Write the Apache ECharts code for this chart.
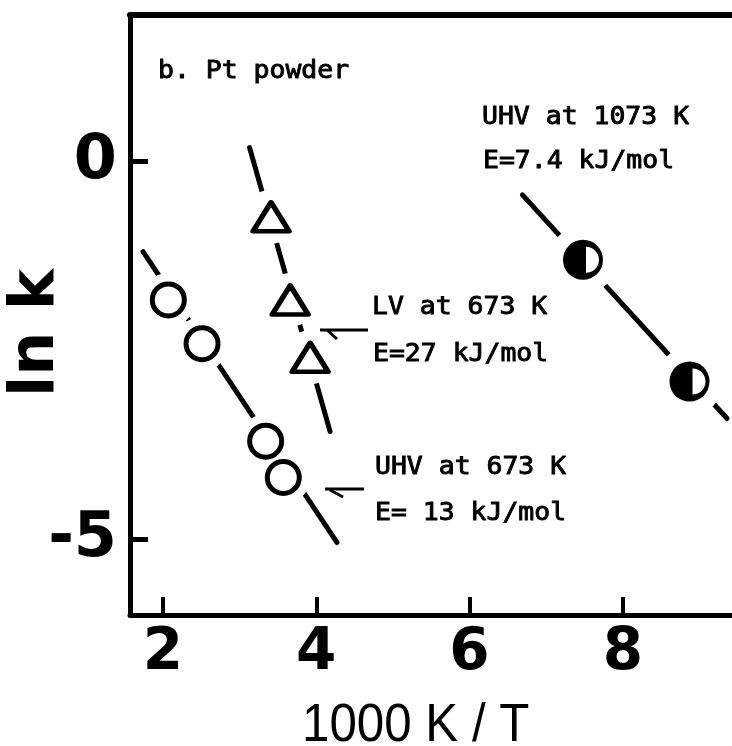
<!DOCTYPE html>
<html>
<head>
<meta charset="utf-8">
<script src="https://cdn.jsdelivr.net/npm/echarts@6/dist/echarts.min.js"></script>
<style>
  html, body { margin: 0; padding: 0; background: #fff; }
  #chart { width: 732px; height: 746px; }
</style>
</head>
<body>
<div id="chart"></div>
<script>
// Axis ticks and labels
const xTickValues = [2, 4, 6, 8];
const yTickValues = [0, -5];

// UHV at 673 K (open circles)
const uhv673X = [2.07, 2.51, 3.34, 3.57];
const uhv673Y = [-1.83, -2.41, -3.70, -4.18];
const uhv673FitX = [1.74, 4.27];
const uhv673FitY = [-1.19, -5.04];

// LV at 673 K (open triangles)
const lv673X = [3.41, 3.66, 3.92];
const lv673Y = [-0.73, -1.83, -2.59];
const lv673FitX = [3.13, 4.18];
const lv673FitY = [0.185, -3.57];

// UHV at 1073 K (half-filled circles)
const uhv1073X = [7.48, 8.87];
const uhv1073Y = [-1.30, -2.91];
const uhv1073FitX = [6.69, 9.36];
const uhv1073FitY = [-0.44, -3.40];

const zip = (xs, ys) => xs.map((x, i) => [x, ys[i]]);

// typewriter-style annotation text: regular mono with a light outline for a medium weight
function note(text, x, y) {
  return {
    type: 'text', x: x, y: y, scaleX: 1.08, z: 100,
    style: { text: text, fontFamily: 'DejaVu Sans Mono', fontSize: 24.5,
      fill: '#000', stroke: '#000', lineWidth: 0.9, align: 'left', verticalAlign: 'middle' }
  };
}

const fitLine = (data) => ({
  type: 'line', data: data, symbol: 'none', z: 2, silent: true,
  lineStyle: { color: '#000', width: 5, cap: 'round', opacity: 1 }
});
const halo = (data, size) => ({
  type: 'scatter', data: data, symbol: 'circle', symbolSize: size, z: 3, silent: true,
  itemStyle: { color: '#fff', borderWidth: 0, opacity: 1 }
});

const chart = echarts.init(document.getElementById('chart'), null, { renderer: 'canvas' });

chart.setOption({
  animation: false,
  backgroundColor: '#fff',
  grid: { left: 130, top: 15, width: 640, height: 600, containLabel: false, outerBoundsMode: 'none' },
  xAxis: [{
    type: 'value', min: 1.57, max: 9.92, position: 'bottom',
    axisLine: { show: true, onZero: false, lineStyle: { color: '#000', width: 5 } },
    axisTick: { show: true, inside: true, length: 18, customValues: xTickValues, lineStyle: { color: '#000', width: 4 } },
    axisLabel: { show: true, customValues: xTickValues, margin: 10, color: '#000',
      fontFamily: 'DejaVu Sans', fontWeight: 'bold', fontSize: 58 },
    splitLine: { show: false }
  }, {
    type: 'value', min: 1.57, max: 9.92, position: 'top',
    axisLine: { show: true, onZero: false, lineStyle: { color: '#000', width: 6 } },
    axisTick: { show: false }, axisLabel: { show: false }, splitLine: { show: false }
  }],
  yAxis: {
    type: 'value', min: -6, max: 1.94,
    axisLine: { show: true, onZero: false, lineStyle: { color: '#000', width: 5 } },
    axisTick: { show: true, inside: true, length: 18, customValues: yTickValues, lineStyle: { color: '#000', width: 5 } },
    axisLabel: { show: true, customValues: yTickValues, margin: 13, color: '#000',
      fontFamily: 'DejaVu Sans', fontWeight: 'bold', fontSize: 62 },
    splitLine: { show: false }
  },
  series: [
    fitLine(zip(uhv673FitX, uhv673FitY)),
    fitLine(zip(lv673FitX, lv673FitY)),
    fitLine(zip(uhv1073FitX, uhv1073FitY)),
    halo(zip(uhv673X, uhv673Y), 54),
    halo(zip(lv673X, lv673Y), 54),
    halo(zip(uhv1073X, uhv1073Y), 68),
    {
      type: 'scatter', data: zip(uhv673X, uhv673Y), symbol: 'circle', symbolSize: 32, z: 4,
      itemStyle: { color: '#fff', borderColor: '#000', borderWidth: 5, opacity: 1 }
    },
    {
      type: 'scatter', data: zip(lv673X, lv673Y), symbol: 'triangle', symbolSize: [36, 29], z: 4,
      itemStyle: { color: '#fff', borderColor: '#000', borderWidth: 5, borderJoin: 'round', opacity: 1 }
    },
    {
      type: 'scatter', data: zip(uhv1073X, uhv1073Y), symbol: 'circle', symbolSize: 40, z: 4,
      itemStyle: { color: '#000', borderWidth: 0, opacity: 1 }
    },
    {
      // open right half of the half-filled circles
      type: 'scatter', data: zip(uhv1073X, uhv1073Y),
      symbol: 'path://M0,0 A10,10 0 0 1 0,20 Z', symbolSize: [13, 26], symbolOffset: [9.5, 0],
      symbolKeepAspect: false, z: 5,
      itemStyle: { color: '#fff', borderWidth: 0, opacity: 1 }
    }
  ],
  graphic: [
    note('b. Pt powder', 158, 72),
    note('UHV at 1073 K', 482, 118),
    note('E=7.4 kJ/mol', 483, 162),
    note('LV at 673 K', 372, 308),
    note('E=27 kJ/mol', 373, 355),
    note('UHV at 673 K', 375, 468),
    note('E= 13 kJ/mol', 375, 514),
    { type: 'polyline', z: 100, shape: { points: [[320, 330], [368, 330]] },
      style: { stroke: '#000', lineWidth: 3, fill: null } },
    { type: 'polyline', z: 100, shape: { points: [[327, 330], [337, 339]] },
      style: { stroke: '#000', lineWidth: 3, fill: null } },
    { type: 'polyline', z: 100, shape: { points: [[325, 489], [364, 489]] },
      style: { stroke: '#000', lineWidth: 3, fill: null } },
    { type: 'polyline', z: 100, shape: { points: [[330, 490], [343, 497]] },
      style: { stroke: '#000', lineWidth: 3, fill: null } },
    {
      type: 'text', x: 37, y: 333, rotation: Math.PI / 2, z: 100,
      style: { text: 'ln k', font: 'bold 62px "DejaVu Sans"', fill: '#000', align: 'center', verticalAlign: 'middle' }
    },
    {
      type: 'text', x: 302, y: 726, scaleX: 0.93, z: 100,
      style: { text: '1000 K / T', font: '53px "Liberation Sans", Arial, sans-serif', fill: '#000', align: 'left', verticalAlign: 'middle' }
    }
  ]
});
</script>
</body>
</html>
